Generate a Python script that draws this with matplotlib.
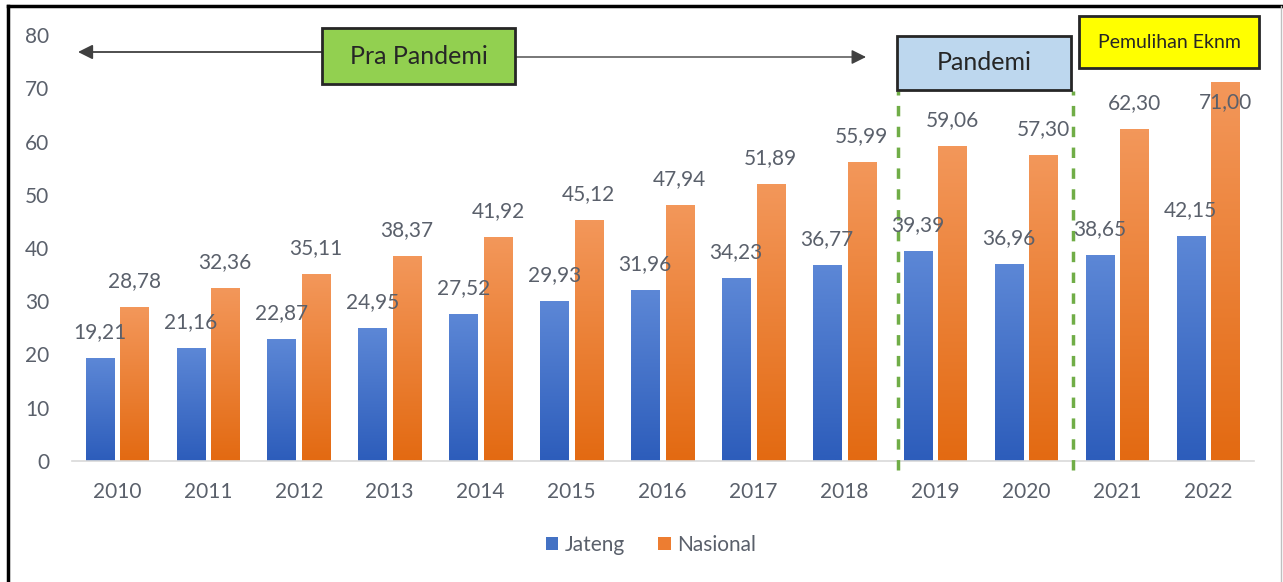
import numpy as np
import matplotlib.pyplot as plt
from matplotlib.lines import Line2D
from matplotlib.patches import Patch, Rectangle

plt.rcParams['font.family'] = ['Lato', 'DejaVu Sans']

# data
years = ['2010', '2011', '2012', '2013', '2014', '2015', '2016',
         '2017', '2018', '2019', '2020', '2021', '2022']
jateng = [19.21, 21.16, 22.87, 24.95, 27.52, 29.93, 31.96,
          34.23, 36.77, 39.39, 36.96, 38.65, 42.15]
nasional = [28.78, 32.36, 35.11, 38.37, 41.92, 45.12, 47.94,
            51.89, 55.99, 59.06, 57.30, 62.30, 71.00]
y_ticks = [0, 10, 20, 30, 40, 50, 60, 70, 80]

W, H = 1283, 582
fig = plt.figure(figsize=(W / 100, H / 100), dpi=100)
ax = fig.add_axes([71.5 / W, 1 - 461 / H, 1182 / W, 426 / H])

x = np.arange(len(years))
bw = 0.31
off = 0.19
text_col = '#5a606b'
fs = 15


def grad_bars(xs, vals, top, bottom):
    # gradient fill bars, lighter at top
    bars = ax.bar(xs, vals, bw, color='none', edgecolor='none', zorder=2)
    c1 = np.array(plt.matplotlib.colors.to_rgb(top))
    c2 = np.array(plt.matplotlib.colors.to_rgb(bottom))
    t = np.linspace(0, 1, 64)[:, None]
    img = (c1 * (1 - t) + c2 * t)[:, None, :]
    for b in bars:
        x0 = b.get_x()
        ax.imshow(img, extent=[x0, x0 + b.get_width(), 0, b.get_height()],
                  aspect='auto', zorder=2, interpolation='bilinear')
    return bars


grad_bars(x - off, jateng, '#5c87d6', '#2d5dbb')
grad_bars(x + off, nasional, '#f3975a', '#e36a12')


def lbl(v):
    return f'{v:.2f}'.replace('.', ',')


for i in range(len(years)):
    ax.annotate(lbl(jateng[i]), (x[i] - off, jateng[i]),
                xytext=(0, 19), textcoords='offset points', ha='center', va='center',
                fontsize=fs, color=text_col, zorder=4)
    if nasional[i] + 10 > y_ticks[-1]:
        # no room above the bar: label goes inside, like Excel does
        dy = -14
    else:
        dy = 19
    ax.annotate(lbl(nasional[i]), (x[i] + off, nasional[i]),
                xytext=(0, dy), textcoords='offset points', ha='center', va='center',
                fontsize=fs, color=text_col, zorder=4)

ax.set_xlim(-0.5, len(years) - 0.5)
ax.set_ylim(0, 80)
ax.set_xticks(x)
ax.set_xticklabels(years)
ax.set_yticks(y_ticks)
ax.tick_params(axis='both', length=0, labelsize=fs, labelcolor=text_col)
ax.tick_params(axis='x', pad=15)
ax.tick_params(axis='y', pad=16)
for s in ['top', 'right', 'left']:
    ax.spines[s].set_visible(False)
ax.spines['bottom'].set_color('#d9d9d9')
ax.spines['bottom'].set_linewidth(1.2)

# period separators
for xv in [8.59, 10.52]:
    ax.plot([xv, xv], [-1.7, 69.5], ls=(0, (3, 3)), color='#70ad47', lw=2.5,
            clip_on=False, zorder=3)


def px(xp, yp):
    return xp / W, 1 - yp / H


def box(x0, y0, x1, y1, text, fc, size):
    fig.add_artist(Rectangle(px(x0, y1), (x1 - x0) / W, (y1 - y0) / H,
                             transform=fig.transFigure, fc=fc, ec='#262626', lw=2))
    fig.text(*px((x0 + x1) / 2, (y0 + y1) / 2), text, ha='center', va='center',
             fontsize=size, color='#262626')


# period boxes
box(322, 28, 515, 84, 'Pra Pandemi', '#92d050', 18)
box(897, 36, 1071, 90, 'Pandemi', '#bdd7ee', 18)
box(1079, 16, 1259, 68, 'Pemulihan Eknm', '#ffff00', 14)

ax.annotate('', xy=px(78, 52), xytext=px(322, 52), xycoords='figure fraction',
            textcoords='figure fraction',
            arrowprops=dict(arrowstyle='-|>', color='#404040', lw=1.3, mutation_scale=22,
                            shrinkA=0, shrinkB=0))
ax.annotate('', xy=px(866, 57), xytext=px(515, 57), xycoords='figure fraction',
            textcoords='figure fraction',
            arrowprops=dict(arrowstyle='-|>', color='#404040', lw=1.0, mutation_scale=22,
                            shrinkA=0, shrinkB=0))

# legend
handles = [Patch(facecolor='#4472c4', label='Jateng'),
           Patch(facecolor='#ed7d31', label='Nasional')]
fig.legend(handles=handles, loc='center', bbox_to_anchor=px(651, 545), ncol=2,
           frameon=False, handlelength=0.6, handleheight=0.6, handletextpad=0.3,
           columnspacing=1.6, prop={'size': fs}, labelcolor=text_col)

# outer frame
fig.add_artist(Line2D([px(8, 0)[0]] * 2, [0, px(0, 6)[1]], color='black', lw=2.5))
fig.add_artist(Line2D([px(8, 0)[0], 1], [px(0, 6)[1]] * 2, color='black', lw=2.5))
fig.add_artist(Line2D([px(1281, 0)[0]] * 2, [0, px(0, 6)[1]], color='#bfbfbf', lw=1))

fig.savefig('out.png', dpi=100)
